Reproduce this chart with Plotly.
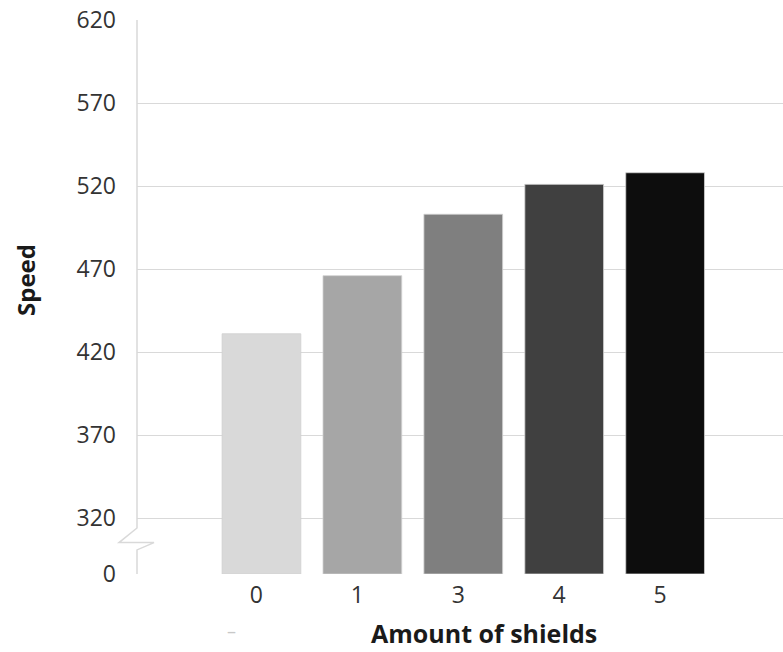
import plotly.graph_objects as go

# Data
categories = ["0", "1", "3", "4", "5"]
speed = [431, 466, 503, 521, 528]
bar_colors = ["#d9d9d9", "#a6a6a6", "#7f7f7f", "#404040", "#0d0d0d"]

# broken axis: "0" is drawn at the bottom just below 320
axis_floor = 286.3
tick_values = [axis_floor, 320, 370, 420, 470, 520, 570, 620]
tick_text = ["0", "320", "370", "420", "470", "520", "570", "620"]

FONT = "Open Sans"
GRID = "#d9d9d9"

fig = go.Figure()
fig.add_trace(go.Bar(
    x=categories,
    y=[v - axis_floor for v in speed],
    base=axis_floor,
    marker=dict(color=bar_colors, line=dict(color="#d0d0d0", width=0.8)),
    hoverinfo="skip",
))

fig.update_layout(
    width=783, height=652,
    margin=dict(l=137, r=0, t=20, b=78),
    paper_bgcolor="white", plot_bgcolor="white",
    bargap=0.22,
    showlegend=False,
    font=dict(family=FONT, color="#333333"),
)

fig.update_xaxes(
    type="category",
    range=[-1.233, 5.168],
    showgrid=False, zeroline=False, showline=False,
    ticks="", tickfont=dict(size=23, color="#333333"),
    ticklabelstandoff=5, ticklabelshift=-5,
)
fig.update_yaxes(
    range=[axis_floor, 620],
    tickvals=tick_values, ticktext=tick_text,
    showgrid=True, gridcolor=GRID, gridwidth=1,
    zeroline=False, showline=False,
    ticks="", tickfont=dict(size=23, color="#333333"),
    ticklabelstandoff=20,
)

# left axis line with break zig-zag
fig.add_shape(
    type="path", xref="paper", yref="y", xsizemode="pixel", xanchor=0,
    path="M 0,620 L 0,314 L -18,305.2 L 17,305.2 L 0,300.8 L 0,%s" % axis_floor,
    line=dict(color=GRID, width=1.5),
)

# axis titles
fig.add_annotation(
    text="<b>Amount of shields</b>", xref="paper", yref="paper",
    x=(484 - 137) / 646, y=(574 - 633) / 554, showarrow=False,
    font=dict(size=25, family=FONT, color="#1a1a1a"), xanchor="center", yanchor="middle",
)
fig.add_annotation(
    text="<b>Speed</b>", xref="paper", yref="paper",
    x=(25 - 137) / 646, y=(574 - 280) / 554, showarrow=False, textangle=-90,
    font=dict(size=24, family=FONT, color="#1a1a1a"), xanchor="center", yanchor="middle",
)
# stray dash below first label
fig.add_annotation(
    text="–", xref="paper", yref="paper",
    x=(231 - 137) / 646, y=(574 - 631) / 554, showarrow=False,
    font=dict(size=18, family=FONT, color="#c8c8c8"), xanchor="center", yanchor="middle",
)

fig.write_html("out.html")
